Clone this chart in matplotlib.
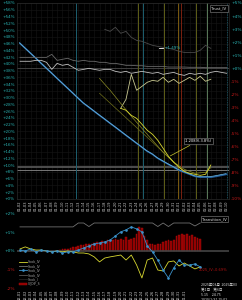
import matplotlib
matplotlib.use("Agg")
import matplotlib.pyplot as plt
from matplotlib import transforms

# ---------------- data ----------------
x_labels_top = ["01-%02d" % d for d in range(2, 32)] + ["02-%02d" % d for d in range(1, 11)]
x_labels_bot = ["12-%02d" % d for d in range(1, 32)] + ["01-01"]

left_tick_vals = list(range(0, 60, 2))
left_tick_labels = ["+%d%%" % v for v in left_tick_vals]
right_tick_vals = [5, 4, 3, 2, 1, 0, -1, -2, -3, -4, -5, -6, -7, -8, -9, -10]
right_tick_labels = ["+5%", "+4%", "+3%", "+2%", "+1%", "+0%", "-1%", "-2%", "-3%",
                     "-4%", "-5%", "-6%", "-7%", "-8%", "-9%", "-10%"]

blue_curve = [1.91, 1.53, 1.15, 0.77, 0.38, 0.0, -0.38, -0.77, -1.15, -1.53,
              -1.91, -2.30, -2.68, -2.98, -3.29, -3.60, -3.90, -4.21, -4.51, -4.82,
              -5.13, -5.43, -5.74, -6.04, -6.35, -6.58, -6.89, -7.12, -7.35, -7.57,
              -7.80, -7.96, -8.11, -8.27, -8.34, -8.34, -8.34, -8.27, -8.19, -8.11]

white_line = [0.54, 0.54, 0.54, 0.61, 0.61, 0.46, -0.08, 0.38, 0.23, 0.31,
              0.08, -0.15, -0.08, 0.0, -0.08, -0.15, -0.08, -0.08, -0.23, -0.31,
              -0.23, -0.38, -0.31, -0.23, -0.31, -0.38, -0.31, -0.46, -0.38, -0.31,
              -0.46, -0.54, -0.38, -0.46, -0.38, -0.46, -0.31, -0.23, -0.31, -0.38]

gray_line = [0.84, 0.84, 0.84, 0.84, 0.84, 0.84, 1.07, 0.61, 0.69, 0.77,
             0.61, 0.54, 0.61, 0.54, 0.54, 0.46, 0.46, 0.38, 0.38, 0.31,
             0.23, 0.23, 0.20, 0.20, 0.15, 0.15, 0.15, 0.15, 0.10, 0.10,
             0.10, 0.10, 0.08, 0.08, 0.08, 0.05, 0.05, 0.05, 0.05, 0.05]

dark_gray_x = list(range(16, 37))
dark_gray_line = [2.98, 2.83, 3.14, 2.68, 2.83, 2.37, 2.14, 2.07, 1.91, 1.76,
                  1.68, 1.61, 1.53, 1.45, 1.30, 1.22, 1.22, 1.22, 1.38, 1.76, 1.53]

khaki_x = list(range(19, 37))
khaki_line = [-3.06, -2.37, -0.46, -1.68, -1.38, -1.07, -0.92, -0.99, -0.69, -1.07,
              -0.84, -1.15, -0.92, -0.69, -0.92, -0.61, -0.99, -0.84]

yellow_x = list(range(19, 37))
yellow_line = [-3.06, -3.21, -3.60, -3.83, -4.28, -4.74, -5.05, -5.51, -6.12, -6.73,
               -7.19, -7.57, -7.88, -8.03, -8.11, -8.19, -8.11, -7.40]

fit_x = [15, 17, 19, 21, 23, 25, 27, 29, 31, 33, 35, 36]
fit_line = [-0.77, -1.68, -2.68, -3.67, -4.59, -5.51, -6.43, -7.19, -7.73, -8.03, -7.96, -7.60]

trend_x = [15, 31]
trend_line = [-1.91, -7.90]

ref_levels = [0.0, -7.50, -7.58, -7.80]
ref_colors = ["#4a4a4a", "#5a5a5a", "#5a5a5a", "#8a8a8a"]

event_x = [10.57, 22.26, 23.2, 27.2, 29.8, 30.4, 33.2, 35.3]
event_colors = ["#1d5f6f", "#5e5e18", "#1d5f6f", "#5e5e18", "#7a5a10", "#7a2010", "#5e5e18", "#5a7a5a"]

# bottom panel
bar_x = [7.5 + 0.5 * k for k in range(54)]
bar_vals = [0.05, 0.08, 0.10, 0.12, 0.15, 0.20, 0.20, 0.25, 0.30, 0.30,
            0.35, 0.40, 0.35, 0.45, 0.50, 0.45, 0.55, 0.50, 0.60, 0.55,
            0.60, 0.65, 0.60, 0.65, 0.60, 0.75, 0.60, 0.65, 0.70, 0.90,
            1.30, 1.25, 0.80, 0.60, 0.40, 0.35, 0.30, 0.35, 0.40, 0.50,
            0.55, 0.60, 0.55, 0.60, 0.80, 0.85, 0.90, 0.85, 0.90, 0.80,
            0.85, 0.75, 0.70, 0.65]

blue_bot = [0.05, 0.0, 0.11, -0.05, 0.05, 0.0, -0.05, 0.0, -0.11, -0.05,
            -0.05, 0.05, 0.16, 0.27, 0.38, 0.43, 0.49, 0.59, 0.81, 1.03,
            1.14, 1.30, 1.19, 1.03, 0.27, -0.05, -0.49, -1.03, -1.46, -0.92,
            -0.49, -0.76, -0.76, -0.70, -0.86]

yellow_bot = [0.11, 0.22, 0.11, 0.05, 0.05, 0.0, -0.05, 0.0, -0.05, 0.0,
              -0.05, -0.11, -0.11, -0.16, -0.32, -0.59, -0.38, -0.32, -0.27, -0.22,
              -0.49, -0.22, -0.76, -1.46, -0.49, -0.38, -1.03, -1.08, -0.59, -0.54,
              -0.81, -0.65, -0.81, -0.97, -0.86]

gray_bot = [1.30, 1.30, 1.30, 1.30, 1.30, 1.30, 1.30, 1.30, 1.30, 1.30,
            1.30, 1.51, 1.51, 1.32, 1.51, 1.51, 1.51, 1.51, 1.51, 1.51,
            1.51, 1.51, 1.51, 1.51, 1.51, 1.51, 1.32, 1.51, 1.32, 1.51,
            1.51, 1.51, 1.51, 1.35, 1.51]

bot_tick_vals = [2, 1, 0, -1, -2]
bot_tick_labels = ["+2%", "+1%", "+0%", "-1%", "-2%"]

# ---------------- figure ----------------
W, H = 242, 300
fig = plt.figure(figsize=(W / 100, H / 100), dpi=100, facecolor="black")


def px_axes(x0, y0, x1, y1):
    return fig.add_axes([x0 / W, (H - y1) / H, (x1 - x0) / W, (y1 - y0) / H])


CYAN = "#2bb3b3"
RED = "#c01818"
XL = (-0.566, 39.43)

ax = px_axes(17, 3, 229, 199)
axl = ax.twinx()

ax.set_facecolor("black")
ax.set_xlim(*XL)
ax.set_ylim(-10, 5)
for s in ax.spines.values():
    s.set_color("#2a2a2a")
    s.set_linewidth(0.5)

ax.set_xticks(range(40))
ax.set_xticklabels(x_labels_top, rotation=90, fontsize=2.6, color="#d0d0d0")
ax.tick_params(axis="x", length=0, pad=1)
ax.grid(True, axis="x", color="#161616", lw=0.4)

ax.yaxis.tick_right()
ax.set_yticks(right_tick_vals)
ax.set_yticklabels(right_tick_labels, fontsize=3.2)
for lab, v in zip(ax.get_yticklabels(), right_tick_vals):
    lab.set_color(CYAN if v >= 0 else RED)
ax.tick_params(axis="y", left=False, labelleft=False, right=True, labelright=True,
               length=0, pad=1.5)

axl.set_ylim(0, 58)
axl.set_yticks(left_tick_vals)
axl.set_yticklabels(left_tick_labels, fontsize=3.0, color=CYAN)
axl.tick_params(axis="y", left=True, labelleft=True, right=False, labelright=False,
                length=0, pad=1.5)
axl.grid(True, axis="y", color="#161616", lw=0.4)
for s in axl.spines.values():
    s.set_visible(False)
axl.set_zorder(0)
ax.set_zorder(1)
ax.patch.set_visible(False)
axl.set_facecolor("black")

for lv, c in zip(ref_levels, ref_colors):
    ax.axhline(lv, color=c, lw=0.6)
for ex, c in zip(event_x, event_colors):
    ax.axvline(ex, color=c, lw=0.7)
ax.axvline(39.06, color="#1d5f6f", lw=0.6, ls=(0, (1, 1)))

idx = list(range(40))
ax.plot(idx, blue_curve, color="#24609e", lw=1.1)
up = transforms.offset_copy(ax.transData, fig=fig, x=-0.5, y=0.5, units="points")
ax.plot(idx, blue_curve, color="#6bb6de", lw=0.5, transform=up)

ax.plot(idx, gray_line, color="#6a6a6a", lw=0.6)
ax.plot(idx, white_line, color="#c0c0c0", lw=0.6)
ax.plot(dark_gray_x, dark_gray_line, color="#4a4a4a", lw=0.6)
ax.plot(khaki_x, khaki_line, color="#c8c890", lw=0.6)
ax.plot(trend_x, trend_line, color="#6e6e1a", lw=0.5)
ax.plot(fit_x, fit_line, color="#8a8a24", lw=0.5)
ax.plot(yellow_x, yellow_line, color="#d8d830", lw=0.6)

ax.plot([26.3, 27.0], [1.55, 1.55], color="white", lw=0.6)
ax.text(27.3, 1.55, "+1.49%", color=CYAN, fontsize=3.0, va="center")

ax.annotate("-1.2089(-3.8%)", xy=(27.9, -6.8), xytext=(31.1, -5.55),
            fontsize=2.6, color="white", va="center",
            bbox=dict(boxstyle="square,pad=0.3", fc="black", ec="#888888", lw=0.4),
            arrowprops=dict(arrowstyle="-", color="#c8c830", lw=0.5))

ax.text(0.988, 0.982, "Trust_IV", transform=ax.transAxes, ha="right", va="top",
        fontsize=2.8, color="#dddddd",
        bbox=dict(boxstyle="square,pad=0.3", fc="black", ec="#888888", lw=0.4))

# ---------------- bottom panel ----------------
bx = px_axes(17, 208, 229, 288)
bx.set_facecolor("black")
bx.set_xlim(*XL)
bx.set_ylim(-2, 2.32)
for s in bx.spines.values():
    s.set_visible(False)

bx.set_xticks(range(32))
bx.set_xticklabels(x_labels_bot, rotation=90, fontsize=2.6, color="#d0d0d0")
bx.tick_params(axis="x", length=0, pad=1)
bx.set_yticks(bot_tick_vals)
bx.set_yticklabels(bot_tick_labels, fontsize=3.2)
for lab, v in zip(bx.get_yticklabels(), bot_tick_vals):
    lab.set_color(CYAN if v >= 0 else RED)
bx.tick_params(axis="y", length=0, pad=1.5)

bx.axhline(0, color="#444444", lw=1.2)
bx.bar(bar_x, bar_vals, width=0.32, color="#8b0000", edgecolor="#b80c0c", lw=0.3,
       label="IV_DIF_S")
bidx = list(range(35))
bx.plot(bidx, yellow_bot, color="#d8d830", lw=0.6, label="Stock_IV")
bx.plot(bidx, gray_bot, color="#707070", lw=0.6, label="Stock_IV")
bx.plot(bidx, blue_bot, color="#3a90c8", lw=0.6, marker="o", ms=0.9, label="Stock_IV")
bx.plot([], [], color="#555555", lw=0.6, label="Stock_IV")
bx.plot([], [], color="#222222", lw=0.6, label="Stock_I")

bx.legend(loc="lower left", bbox_to_anchor=(0.0, 0.0), fontsize=2.2, frameon=False,
          handlelength=2.5, labelspacing=0.15, borderpad=0.2, handletextpad=0.4,
          labelcolor="#aaaaaa")

bx.text(0.988, 0.86, "Transition_IV", transform=bx.transAxes, ha="right", va="center",
        fontsize=2.8, color="#dddddd",
        bbox=dict(boxstyle="square,pad=0.3", fc="black", ec="#888888", lw=0.4))
bx.text(0.99, 0.235, "2025_IV:-0.69%", transform=bx.transAxes, ha="right", va="center",
        fontsize=2.6, color="#b01010")

fig.text(201 / W, 1 - 283 / H,
         "2025年03月  2025年03\n第1日    第6日\n5.15     24.75\n2020/1/31 15:02",
         fontsize=2.6, color="#dddddd", va="top", ha="left", linespacing=1.25,
         family=["Noto Sans CJK SC", "DejaVu Sans"])

fig.savefig("out.png", dpi=100, facecolor="black")
